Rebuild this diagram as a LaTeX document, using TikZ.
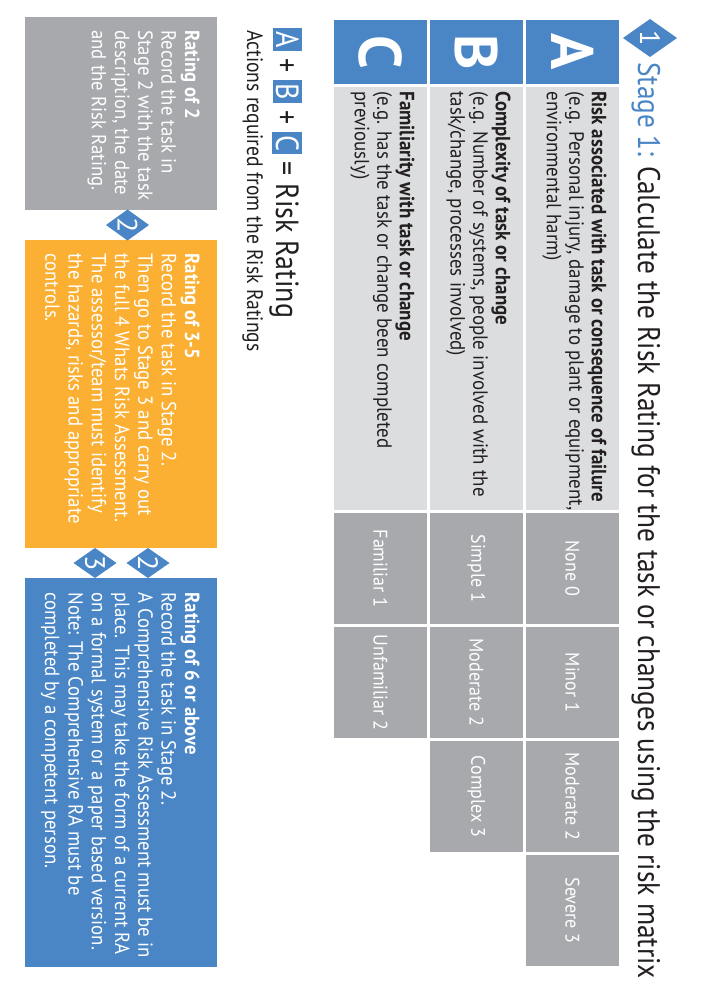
\documentclass[tikz,border=0pt]{standalone}
\usepackage{fontspec}
\setmainfont{PT Sans}
\newfontfamily\titlefont[FakeStretch=0.875]{PT Sans}
\newfontfamily\bodyfont[FakeStretch=0.92]{PT Sans}
\usetikzlibrary{shapes.geometric}
\definecolor{rblue}{RGB}{74,134,198}
\definecolor{rorange}{RGB}{251,176,52}
\definecolor{rgray}{RGB}{167,169,172}
\definecolor{rlight}{RGB}{220,221,222}
\definecolor{rdark}{RGB}{35,31,32}
\begin{document}
\begin{tikzpicture}[x=0.5pt,y=-0.5pt,
  box/.style={rotate=-90, inner sep=0, outer sep=0, draw=none},
  hdr/.style={box, fill=rblue, minimum width=32pt, minimum height=46.5pt, text=white, font=\bfseries\fontsize{30}{30}\selectfont},
  lbl/.style={box, fill=rlight, minimum width=211.5pt, minimum height=46.5pt},
  val/.style={box, fill=rgray, minimum width=55.5pt, minimum height=46.5pt, text=white, font=\bodyfont\fontsize{9.8}{11}\selectfont},
  lbltxt/.style={rotate=-90, inner sep=0, anchor=north west, align=left, text=rdark, font=\bodyfont\fontsize{10.3}{11.3}\selectfont},
  acttxt/.style={rotate=-90, inner sep=0, anchor=north west, align=left, text=white, font=\bodyfont\fontsize{10.2}{11.65}\selectfont},
  actbox/.style={box, minimum height=96pt},
  dia/.style={diamond, rotate=-90, inner sep=0, outer sep=0, fill=rblue, text=white, aspect=0.7, font=\fontsize{14}{14}\selectfont}
]
\useasboundingbox[fill=white] (0,0) rectangle (700,988);

% title
\node[dia, minimum width=19pt, minimum height=27pt] (d1) at (650,38) {1};
\node[rotate=-90, inner sep=0, anchor=base west, text=rdark, font=\titlefont\fontsize{15.6}{18}\selectfont] (title) at (638,62)
  {\textcolor{rblue}{Stage 1:} Calculate the Risk Rating for the task or changes using the risk matrix};

% row A
\node[hdr] (hA) at (572.5,52) {A};
\node[lbl] (lA) at (572.5,298.5) {};
\node[lbltxt] (tA) at (607,91) {\textbf{Risk associated with task or consequence of failure}\\(e.g. Personal injury, damage to plant or equipment,\\environmental harm)};
\node[val] (a1) at (572.5,568.5) {None 0};
\node[val] (a2) at (572.5,682.5) {Minor 1};
\node[val] (a3) at (572.5,796.5) {Moderate 2};
\node[val] (a4) at (572.5,910.5) {Severe 3};

% row B
\node[hdr] (hB) at (476.5,52) {B};
\node[lbl] (lB) at (476.5,298.5) {};
\node[lbltxt] (tB) at (511,91) {\textbf{Complexity of task or change}\\(e.g. Number of systems, people involved with the\\task/change, processes involved)};
\node[val] (b1) at (476.5,568.5) {Simple 1};
\node[val] (b2) at (476.5,682.5) {Moderate 2};
\node[val] (b3) at (476.5,796.5) {Complex 3};

% row C
\node[hdr] (hC) at (380.5,52) {C};
\node[lbl] (lC) at (380.5,298.5) {};
\node[lbltxt] (tC) at (415,91) {\textbf{Familiarity with task or change}\\(e.g. has the task or change been completed\\previously)};
\node[val] (c1) at (380.5,568.5) {Familiar 1};
\node[val] (c2) at (380.5,682.5) {Unfamiliar 2};

% formula
\node[rotate=-90, inner sep=0, anchor=base west, text=rdark, font=\titlefont\fontsize{16}{19}\selectfont] (formula) at (276,28)
  {\fboxsep=1.6pt\colorbox{rblue}{\textcolor{white}{A}} + \colorbox{rblue}{\textcolor{white}{B}} + \colorbox{rblue}{\textcolor{white}{C}} = Risk Rating};
\node[rotate=-90, inner sep=0, anchor=base west, text=rdark, font=\titlefont\fontsize{11.2}{13}\selectfont] (actions) at (247,30)
  {Actions required from the Risk Ratings};

% action boxes
\node[actbox, fill=rgray, minimum width=96.5pt] (g) at (121,113.5) {};
\node[acttxt] (gt) at (200,30) {\textbf{Rating of 2}\\Record the task in\\Stage 2 with the task\\description, the date\\and the Risk Rating.};

\node[actbox, fill=rorange, minimum width=154pt] (o) at (121,394) {};
\node[acttxt] (ot) at (200,253) {\textbf{Rating of 3-5}\\Record the task in Stage 2.\\Then go to Stage 3 and carry out\\the full 4 Whats Risk Assessment.\\The assessor/team must identify\\the hazards, risks and appropriate\\controls.};

\node[actbox, fill=rblue, minimum width=194.5pt] (b) at (121,772.5) {};
\node[acttxt] (bt) at (200,592) {\textbf{Rating of 6 or above}\\Record the task in Stage 2.\\A Comprehensive Risk Assessment must be in\\place. This may take the form of a current RA\\on a formal system or a paper based version.\\Note: The Comprehensive RA must be\\completed by a competent person.};

% diamonds
\node[dia, minimum width=15.5pt, minimum height=21.5pt] (d2a) at (127.5,225) {2};
\node[dia, minimum width=15pt, minimum height=21.5pt] (d2b) at (148,563) {2};
\node[dia, minimum width=15pt, minimum height=21.5pt] (d3) at (95,563) {3};
\end{tikzpicture}
\end{document}
